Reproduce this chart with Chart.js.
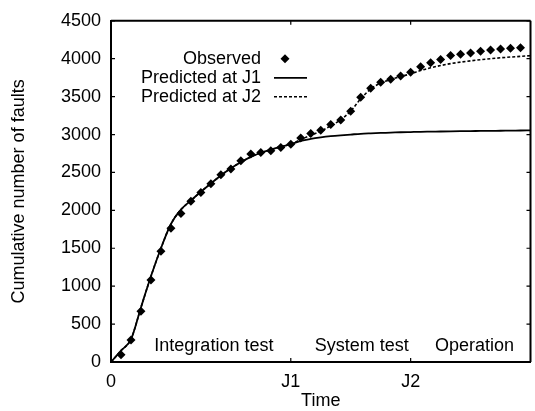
<!DOCTYPE html>
<html>
<head>
<meta charset="utf-8">
<script src="https://cdn.jsdelivr.net/npm/chart.js@4/dist/chart.umd.min.js"></script>
<style>
html,body{margin:0;padding:0;background:#fff;}
#wrap{width:535px;height:411px;}
</style>
</head>
<body>
<div id="wrap"><canvas id="c" width="535" height="411"></canvas></div>
<script>
// ---- data ----
const obsTime = [1,2,3,4,5,6,7,8,9,10,11,12,13,14,15,16,17,18,19,20,21,22,23,24,25,26,27,28,29,30,31,32,33,34,35,36,37,38,39,40,41];
const observed = [95,290,670,1080,1460,1765,1960,2120,2235,2350,2468,2546,2655,2742,2764,2786,2829,2872,2955,3012,3055,3133,3191,3308,3491,3612,3690,3729,3772,3820,3894,3946,3989,4041,4058,4076,4098,4115,4128,4137,4146];
const predTime = [0,1,2,3,4,5,6,7,8,9,10,11,12,13,14,15,16,17,18,19,20,21,22,23,24,25,26,27,28,29,30,31,32,33,34,35,36,37,38,39,40,41,42];
const predJ1 = [0,150,300,720,1130,1500,1820,2010,2130,2245,2355,2460,2555,2635,2705,2760,2800,2840,2872,2915,2942,2962,2978,2990,3000,3010,3016,3021,3025,3030,3033,3036,3038,3040,3042,3044,3046,3047,3049,3050,3052,3053,3055];
const predJ2 = [0,150,300,720,1130,1500,1820,2010,2130,2245,2355,2460,2555,2635,2705,2760,2800,2840,2872,2935,2990,3045,3115,3195,3310,3470,3600,3680,3725,3765,3800,3845,3880,3910,3935,3955,3972,3987,4000,4012,4022,4031,4040];
const xTickValues = [0,18,30];
const xTickLabels = ['0','J1','J2'];
const phaseLabels = ['Integration test','System test','Operation'];
const phaseCenters = [10.3,25.1,36.4];
const seriesLabels = ['Observed','Predicted at J1','Predicted at J2'];

const FONT = "'Liberation Sans', Arial, Helvetica, sans-serif";

const pairs = (xs, ys) => xs.map((x,i)=>({x:x,y:ys[i]}));

const framePlugin = {
  id:'frame',
  afterDraw(chart){
    const ctx = chart.ctx;
    const a = chart.chartArea;
    const xs = chart.scales.x, ys = chart.scales.y;
    ctx.save();
    ctx.strokeStyle = '#000';
    ctx.lineWidth = 2;
    ctx.beginPath();
    ctx.moveTo(a.left, a.top); ctx.lineTo(a.right, a.top);
    ctx.moveTo(a.right, a.top); ctx.lineTo(a.right, a.bottom);
    ctx.stroke();
    // inward ticks
    ctx.lineWidth = 1.2;
    ctx.beginPath();
    ys.ticks.forEach(t=>{
      const p = ys.getPixelForValue(t.value);
      ctx.moveTo(a.left, p); ctx.lineTo(a.left+4, p);
      ctx.moveTo(a.right, p); ctx.lineTo(a.right-4, p);
    });
    xs.ticks.forEach(t=>{
      const p = xs.getPixelForValue(t.value);
      ctx.moveTo(p, a.bottom); ctx.lineTo(p, a.bottom-4);
      ctx.moveTo(p, a.top); ctx.lineTo(p, a.top+4);
    });
    ctx.stroke();
    // phase labels
    ctx.fillStyle = '#000';
    ctx.font = '18px ' + FONT;
    ctx.textAlign = 'center';
    ctx.textBaseline = 'middle';
    phaseLabels.forEach((s,i)=>{
      ctx.fillText(s, xs.getPixelForValue(phaseCenters[i]), a.bottom - 16);
    });
    // legend
    const ds = chart.data.datasets;
    ctx.textAlign = 'right';
    const lx = a.left + 150, ly = a.top + 38, lh = 19;
    ds.forEach((d,i)=>{
      const y = ly + i*lh;
      ctx.fillStyle = '#000';
      ctx.fillText(d.label, lx, y);
      if (i===0){
        ctx.beginPath();
        const cx = lx + 24, r = 4.5;
        ctx.moveTo(cx, y-r); ctx.lineTo(cx+r, y); ctx.lineTo(cx, y+r); ctx.lineTo(cx-r, y); ctx.closePath();
        ctx.fill();
      } else {
        ctx.beginPath();
        ctx.lineWidth = d.borderWidth;
        ctx.setLineDash(d.borderDash || []);
        ctx.moveTo(lx + 13, y); ctx.lineTo(lx + 46, y);
        ctx.stroke();
        ctx.setLineDash([]);
      }
    });
    ctx.restore();
  }
};

new Chart(document.getElementById('c'), {
  type:'line',
  data:{
    datasets:[
      {label:seriesLabels[0], data:pairs(obsTime, observed), showLine:false, pointStyle:'rectRot', pointRadius:4.5, pointBackgroundColor:'#000', pointBorderColor:'#000', pointBorderWidth:0, borderColor:'#000'},
      {label:seriesLabels[1], data:pairs(predTime, predJ1), borderColor:'#000', borderWidth:1.8, pointRadius:0, cubicInterpolationMode:'monotone', fill:false},
      {label:seriesLabels[2], data:pairs(predTime, predJ2), borderColor:'#000', borderWidth:1.6, borderDash:[3,2], pointRadius:0, cubicInterpolationMode:'monotone', fill:false}
    ]
  },
  options:{
    responsive:false,
    animation:false,
    layout:{padding:{top:18, right:1, left:0, bottom:0}},
    plugins:{legend:{display:false}, tooltip:{enabled:false}},
    scales:{
      x:{
        type:'linear', min:0, max:42,
        grid:{display:false, drawTicks:false},
        border:{display:true, color:'#000', width:2},
        afterBuildTicks(s){ s.ticks = xTickValues.map(v=>({value:v})); },
        afterFit(s){ s.height = 49; },
        ticks:{color:'#000', padding:9, font:{family:FONT, size:18}, maxRotation:0, autoSkip:false,
          callback:(v)=>{ const i = xTickValues.indexOf(v); return i>=0 ? xTickLabels[i] : ''; }},
        title:{display:true, text:'Time', color:'#000', font:{family:FONT, size:18, lineHeight:1}, padding:{top:0,bottom:1}}
      },
      y:{
        min:0, max:4500,
        grid:{display:false, drawTicks:false},
        border:{display:true, color:'#000', width:2},
        afterFit(s){ s.width = 111; },
        ticks:{stepSize:500, color:'#000', padding:10, font:{family:FONT, size:18}, callback:(v)=>String(v)},
        title:{display:true, text:'Cumulative number of faults', color:'#000', font:{family:FONT, size:18, lineHeight:1}, padding:{top:10,bottom:0}}
      }
    }
  },
  plugins:[framePlugin]
});
</script>
</body>
</html>
